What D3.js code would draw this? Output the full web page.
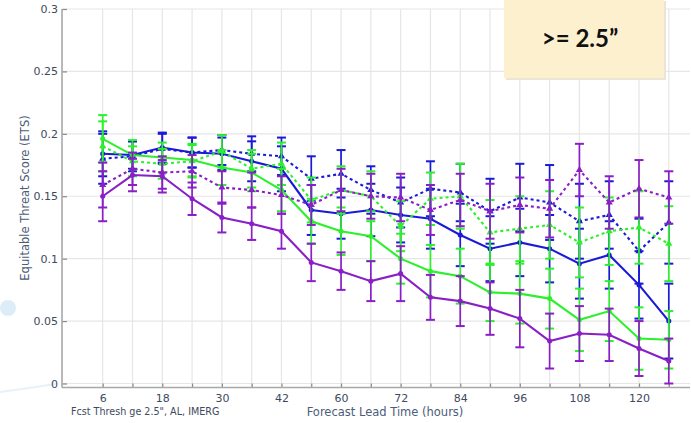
<!DOCTYPE html>
<html>
<head>
<meta charset="utf-8">
<script src="https://cdn.jsdelivr.net/npm/d3@7"></script>
<style>
  html, body { margin: 0; padding: 0; background: #ffffff; }
  svg { display: block; }
</style>
</head>
<body>
<svg id="chart" width="691" height="423"></svg>
<script>
// Forecast lead times (hours); 54 h is not verified
const leadTimes = ["6","12","18","24","30","36","42","48","60","66","72","78","84","90","96","102","108","114","120","126"];
const tickLabels = ["6","18","30","42","60","72","84","96","108","120"];
const yTicks = [0, 0.05, 0.1, 0.15, 0.2, 0.25, 0.3];

// ETS per lead time and 95% CI half-widths
const blueSolid      = [0.184,0.183,0.189,0.185,0.184,0.178,0.172,0.139,0.136,0.139,0.135,0.132,0.119,0.108,0.113,0.108,0.096,0.103,0.079,0.050];
const blueSolidErr   = [0.018,0.011,0.012,0.012,0.013,0.016,0.018,0.020,0.020,0.021,0.022,0.024,0.025,0.026,0.027,0.027,0.028,0.027,0.027,0.030];
const blueDotted     = [0.180,0.182,0.188,0.185,0.187,0.184,0.182,0.164,0.168,0.155,0.145,0.156,0.153,0.138,0.149,0.145,0.130,0.135,0.106,0.129];
const blueDottedErr  = [0.020,0.012,0.012,0.012,0.012,0.014,0.015,0.018,0.019,0.019,0.020,0.022,0.023,0.026,0.027,0.030,0.030,0.027,0.026,0.033];
const greenSolid     = [0.196,0.183,0.181,0.179,0.173,0.169,0.155,0.130,0.122,0.118,0.100,0.090,0.086,0.073,0.072,0.068,0.051,0.058,0.036,0.035];
const greenSolidErr  = [0.019,0.012,0.012,0.013,0.014,0.015,0.017,0.018,0.019,0.020,0.020,0.021,0.022,0.023,0.024,0.024,0.025,0.024,0.025,0.023];
const greenDotted    = [0.190,0.178,0.176,0.178,0.186,0.172,0.176,0.147,0.155,0.150,0.126,0.148,0.150,0.121,0.124,0.127,0.113,0.122,0.125,0.112];
const greenDottedErr = [0.020,0.012,0.012,0.013,0.013,0.015,0.017,0.018,0.019,0.020,0.020,0.021,0.026,0.026,0.026,0.027,0.028,0.027,0.029,0.030];
const purpleSolid    = [0.150,0.167,0.166,0.148,0.133,0.128,0.122,0.097,0.090,0.082,0.088,0.069,0.066,0.060,0.052,0.034,0.040,0.039,0.028,0.018];
const purpleSolidErr = [0.020,0.013,0.013,0.013,0.012,0.013,0.014,0.015,0.015,0.016,0.022,0.018,0.020,0.021,0.023,0.022,0.022,0.021,0.022,0.018];
const purpleDotted   = [0.159,0.172,0.169,0.170,0.157,0.155,0.151,0.143,0.155,0.150,0.149,0.139,0.147,0.138,0.143,0.140,0.171,0.145,0.156,0.149];
const purpleDottedErr= [0.018,0.013,0.013,0.013,0.013,0.014,0.015,0.016,0.017,0.018,0.019,0.020,0.021,0.022,0.022,0.023,0.021,0.021,0.023,0.021];

const BLUE = "#1a1ad8", GREEN = "#2cf02c", PURPLE = "#8a1fc6";

const series = [
  { values: blueDotted,   err: blueDottedErr,   color: BLUE,   dotted: true },
  { values: blueSolid,    err: blueSolidErr,    color: BLUE,   dotted: false },
  { values: greenDotted,  err: greenDottedErr,  color: GREEN,  dotted: true },
  { values: greenSolid,   err: greenSolidErr,   color: GREEN,  dotted: false },
  { values: purpleDotted, err: purpleDottedErr, color: PURPLE, dotted: true },
  { values: purpleSolid,  err: purpleSolidErr,  color: PURPLE, dotted: false }
];

const svg = d3.select("#chart");
const plotLeft = 62, plotRight = 690, plotTop = 9, axisY = 387.5;

const x = d3.scalePoint().domain(leadTimes).range([102.7, 668.8]);
const y = d3.scaleLinear().domain([0, 0.3]).range([383.5, 9]);

// faint page decoration
svg.append("circle").attr("cx", 8).attr("cy", 308).attr("r", 8).attr("fill", "#dcedf7");
svg.append("path").attr("d", "M0,392 Q30,388 55,384").attr("fill", "none")
   .attr("stroke", "#e6f1f8").attr("stroke-width", 2);

// grid
const grid = svg.append("g");
grid.selectAll(".hg").data(yTicks).join("line")
  .attr("x1", plotLeft).attr("x2", plotRight)
  .attr("y1", d => y(d)).attr("y2", d => y(d))
  .attr("stroke", "#e6e6e6").attr("stroke-width", 1.2);
grid.selectAll(".vg").data(leadTimes).join("line")
  .attr("x1", d => x(d)).attr("x2", d => x(d))
  .attr("y1", plotTop).attr("y2", axisY)
  .attr("stroke", "#e6e6e6").attr("stroke-width", 1.2);

// axes
const yAxis = d3.axisRight(y).tickValues(yTicks).tickSize(5).tickFormat(d3.format("~g"));
const gy = svg.append("g").attr("transform", `translate(${plotLeft},0)`).call(yAxis);
gy.select(".domain").remove();
gy.selectAll(".tick line").attr("stroke", "#8a8a8a").attr("stroke-width", 1.2);
gy.selectAll(".tick text").attr("x", -4).attr("text-anchor", "end")
  .attr("font-family", "DejaVu Sans").attr("font-size", 11).attr("fill", "#3e4a5c");

const xAxis = d3.axisTop(x).tickSize(4).tickFormat(d => tickLabels.includes(d) ? d : "");
const gx = svg.append("g").attr("transform", `translate(0,${axisY})`).call(xAxis);
gx.select(".domain").remove();
gx.selectAll(".tick line").attr("stroke", "#8a8a8a").attr("stroke-width", 1.2);
gx.selectAll(".tick text").attr("y", 14).attr("dy", "0")
  .attr("font-family", "DejaVu Sans").attr("font-size", 11).attr("fill", "#3e4a5c");

svg.append("line").attr("x1", plotLeft).attr("x2", plotLeft).attr("y1", plotTop).attr("y2", axisY)
  .attr("stroke", "#a8a8a8").attr("stroke-width", 1.6);
svg.append("line").attr("x1", plotLeft).attr("x2", plotRight).attr("y1", axisY).attr("y2", axisY)
  .attr("stroke", "#a8a8a8").attr("stroke-width", 1.6);

// series: error bars, lines, markers
const line = d3.line().x((d, i) => x(leadTimes[i])).y(d => y(d));
series.forEach(s => {
  const g = svg.append("g");
  const pts = s.values.map((v, i) => ({ lt: leadTimes[i], v, e: s.err[i] }));
  g.selectAll(".eb").data(pts).join("line")
    .attr("x1", d => x(d.lt)).attr("x2", d => x(d.lt))
    .attr("y1", d => y(d.v - d.e)).attr("y2", d => y(d.v + d.e))
    .attr("stroke", s.color).attr("stroke-width", 1.7);
  ["lo", "hi"].forEach(k => {
    g.selectAll(".cap" + k).data(pts).join("line")
      .attr("x1", d => x(d.lt) - 4.5).attr("x2", d => x(d.lt) + 4.5)
      .attr("y1", d => y(k === "lo" ? d.v - d.e : d.v + d.e))
      .attr("y2", d => y(k === "lo" ? d.v - d.e : d.v + d.e))
      .attr("stroke", s.color).attr("stroke-width", 2);
  });
  g.append("path").attr("d", line(s.values)).attr("fill", "none")
    .attr("stroke", s.color).attr("stroke-width", 2.1)
    .attr("stroke-dasharray", s.dotted ? "3,3" : null);
  const sym = d3.symbol().type(s.dotted ? d3.symbolTriangle : d3.symbolCircle).size(s.dotted ? 22 : 20);
  g.selectAll(".pt").data(pts).join("path")
    .attr("transform", d => `translate(${x(d.lt)},${y(d.v)})`)
    .attr("d", sym).attr("fill", s.color);
});

// axis titles
svg.append("text").attr("transform", "translate(29,198) rotate(-90)")
  .attr("text-anchor", "middle").attr("font-family", "DejaVu Sans").attr("font-size", 11.5)
  .attr("fill", "#4b5d78").text("Equitable Threat Score (ETS)");
svg.append("text").attr("x", 385).attr("y", 416).attr("text-anchor", "middle")
  .attr("font-family", "DejaVu Sans").attr("font-size", 11.5).attr("fill", "#4b5d78")
  .text("Forecast Lead Time (hours)");
svg.append("text").attr("x", 71).attr("y", 415)
  .attr("font-family", "DejaVu Sans").attr("font-size", 9.6).attr("fill", "#3e4a5c")
  .text("Fcst Thresh ge 2.5\", AL, IMERG");

// threshold badge
const badge = svg.append("g");
badge.append("rect").attr("x", 506).attr("y", 1).attr("width", 160).attr("height", 79)
  .attr("fill", "#ebe5d6");
badge.append("rect").attr("x", 504).attr("y", -1).attr("width", 160).attr("height", 79)
  .attr("fill", "#fdf0cf");
badge.append("text").attr("x", 580).attr("y", 47).attr("text-anchor", "middle")
  .attr("font-family", "Lato").attr("font-weight", "bold").attr("font-size", 24)
  .attr("fill", "#111111").text(">= 2.5\u201D");
</script>
</body>
</html>
